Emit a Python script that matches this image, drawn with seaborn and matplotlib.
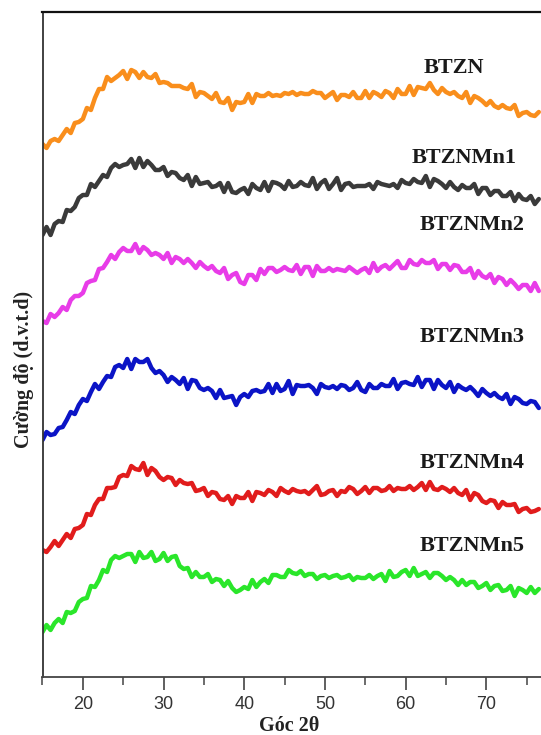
import numpy as np
import pandas as pd
import matplotlib
matplotlib.use("Agg")
import matplotlib.pyplot as plt
import seaborn as sns
from matplotlib.ticker import MultipleLocator, FixedLocator

# ---------------- data ----------------
two_theta_start = 15.0
two_theta_step = 0.5

samples = ["BTZN", "BTZNMn1", "BTZNMn2", "BTZNMn3", "BTZNMn4", "BTZNMn5"]

btzn = [4, 0, 7, 9, 7, 13, 19, 15, 25, 26,
        29, 40, 38, 50, 59, 59, 71, 67, 70, 73,
        77, 69, 78, 76, 70, 76, 71, 70, 74, 65,
        66, 65, 62, 62, 62, 60, 59, 64, 51, 56,
        55, 52, 49, 55, 46, 45, 50, 38, 46, 45,
        46, 54, 45, 54, 52, 52, 55, 52, 53, 52,
        55, 54, 56, 53, 55, 54, 54, 57, 55, 55,
        50, 53, 56, 48, 53, 53, 51, 56, 50, 50,
        57, 50, 56, 54, 51, 57, 55, 50, 59, 54,
        54, 62, 53, 61, 60, 59, 65, 58, 54, 60,
        56, 54, 56, 52, 50, 56, 45, 52, 50, 47,
        43, 47, 42, 40, 43, 40, 39, 43, 32, 35,
        36, 33, 32, 36]

btznmn1 = [-2, 6, -2, 9, 12, 11, 23, 22, 26, 35,
           38, 38, 49, 46, 52, 58, 56, 65, 69, 66,
           68, 69, 74, 65, 75, 66, 72, 68, 63, 63,
           66, 57, 61, 60, 55, 53, 58, 47, 56, 49,
           50, 51, 46, 47, 50, 41, 50, 41, 40, 43,
           45, 39, 49, 45, 43, 51, 42, 51, 50, 48,
           44, 52, 46, 47, 51, 48, 47, 55, 44, 50,
           53, 44, 49, 55, 43, 49, 50, 46, 47, 47,
           47, 49, 44, 51, 49, 48, 47, 49, 45, 53,
           50, 49, 54, 51, 50, 57, 46, 54, 52, 49,
           45, 51, 46, 43, 48, 45, 45, 49, 39, 45,
           45, 38, 42, 42, 37, 37, 41, 32, 39, 34,
           33, 37, 29, 34]

btznmn2 = [2, 0, 9, 6, 10, 16, 13, 23, 27, 27,
           30, 40, 42, 43, 54, 55, 61, 68, 64, 71,
           75, 72, 72, 79, 70, 76, 73, 68, 70, 68,
           64, 70, 60, 66, 64, 60, 64, 60, 55, 61,
           57, 54, 57, 52, 50, 55, 44, 48, 50, 41,
           39, 48, 48, 43, 54, 49, 55, 55, 51, 53,
           56, 53, 52, 58, 49, 56, 56, 47, 57, 52,
           52, 55, 52, 54, 53, 52, 56, 53, 50, 53,
           55, 50, 60, 52, 56, 58, 54, 58, 62, 55,
           55, 63, 59, 58, 63, 60, 60, 63, 54, 59,
           59, 53, 58, 57, 51, 51, 55, 45, 52, 47,
           45, 49, 40, 46, 44, 38, 43, 39, 34, 38,
           38, 32, 40, 32]

btznmn3 = [-3, 5, 2, 3, 9, 10, 17, 25, 23, 32,
           38, 36, 45, 53, 48, 55, 61, 60, 70, 72,
           69, 78, 68, 78, 75, 75, 78, 69, 64, 66,
           62, 55, 60, 57, 53, 59, 48, 57, 56, 49,
           47, 49, 46, 39, 47, 39, 40, 41, 32, 40,
           43, 40, 46, 47, 45, 46, 53, 44, 53, 46,
           48, 56, 43, 52, 51, 51, 52, 49, 43, 53,
           50, 49, 51, 48, 52, 51, 47, 49, 55, 47,
           45, 53, 49, 49, 53, 51, 51, 58, 48, 54,
           55, 53, 52, 60, 50, 57, 57, 48, 57, 52,
           49, 55, 45, 52, 49, 47, 50, 46, 41, 48,
           44, 41, 44, 40, 38, 43, 33, 40, 38, 34,
           33, 36, 35, 29]

btznmn4 = [3, 1, 6, 12, 7, 13, 19, 15, 24, 25,
           28, 39, 38, 48, 54, 54, 65, 65, 66, 76,
           78, 77, 87, 84, 83, 90, 78, 85, 82, 76,
           73, 76, 75, 68, 73, 70, 69, 70, 62, 63,
           65, 57, 61, 60, 54, 53, 57, 49, 57, 55,
           55, 61, 52, 61, 60, 58, 63, 61, 57, 65,
           62, 60, 64, 62, 61, 62, 59, 63, 67, 58,
           59, 62, 63, 57, 62, 61, 66, 64, 59, 62,
           66, 60, 65, 65, 62, 63, 67, 62, 65, 64,
           64, 67, 63, 66, 70, 63, 71, 64, 63, 66,
           64, 61, 65, 60, 58, 63, 53, 60, 58, 52,
           50, 53, 52, 45, 51, 48, 48, 49, 41, 44,
           45, 41, 42, 44]

btznmn5 = [-2, 5, 0, 7, 11, 7, 18, 17, 19, 28,
           31, 32, 44, 43, 50, 60, 58, 70, 74, 72,
           74, 76, 76, 68, 78, 72, 73, 78, 69, 71,
           77, 69, 73, 74, 64, 61, 62, 53, 58, 53,
           53, 56, 48, 51, 50, 44, 49, 42, 38, 40,
           43, 41, 50, 43, 48, 51, 47, 55, 55, 53,
           53, 60, 57, 56, 59, 54, 56, 56, 51, 54,
           55, 52, 54, 55, 52, 53, 55, 50, 53, 52,
           52, 55, 51, 54, 56, 49, 59, 53, 54, 58,
           60, 54, 62, 54, 56, 58, 52, 57, 57, 54,
           50, 53, 50, 45, 50, 45, 48, 48, 42, 44,
           47, 40, 44, 45, 39, 40, 44, 34, 42, 40,
           37, 43, 37, 41]

stack_offsets = [529, 444, 354, 240, 124, 47]
x_ticks = [20, 30, 40, 50, 60, 70]
x_tick_labels = ["20", "30", "40", "50", "60", "70"]

series = [btzn, btznmn1, btznmn2, btznmn3, btznmn4, btznmn5]
colors = ["#F98E1C", "#3A3A3A", "#E83CE8", "#0B14C6", "#E11C1C", "#2AE62A"]

# ---------------- table ----------------
rows = []
for name, vals, off in zip(samples, series, stack_offsets):
    for i, v in enumerate(vals):
        rows.append((name, two_theta_start + i * two_theta_step, v + off))
df = pd.DataFrame(rows, columns=["sample", "two_theta", "intensity"])

# ---------------- style ----------------
sns.set_style("white")
plt.rcParams["font.family"] = ["Liberation Serif", "DejaVu Serif"]

W, H = 541, 735
fig = plt.figure(figsize=(W / 100, H / 100), dpi=100)
ax_left, ax_bottom, ax_top = 42.5, 58.0, 12.0
ax = fig.add_axes([ax_left / W, ax_bottom / H, (W - ax_left) / W, (H - ax_bottom - ax_top) / H])

sns.lineplot(data=df, x="two_theta", y="intensity", hue="sample",
             hue_order=samples, palette=colors, estimator=None, sort=False,
             linewidth=3.2, legend=False, ax=ax)

px_per_deg = 8.07
ax.set_xlim(15, 15 + (W - ax_left) / px_per_deg)
ax.set_ylim(0, 665)

# spines
ax.spines["right"].set_visible(False)
ax.spines["top"].set_color("#111111")
ax.spines["top"].set_linewidth(1.6)
ax.spines["left"].set_color("#333333")
ax.spines["left"].set_linewidth(1.3)
ax.spines["bottom"].set_color("#444444")
ax.spines["bottom"].set_linewidth(1.3)

# ticks
ax.set_yticks([])
ax.xaxis.set_major_locator(FixedLocator(x_ticks))
ax.set_xticklabels(x_tick_labels, fontfamily=["Liberation Sans", "DejaVu Sans"], fontsize=13, color="#333333")
ax.xaxis.set_minor_locator(MultipleLocator(5))
ax.tick_params(axis="x", which="major", direction="out", length=9, width=1.2,
               color="#444444", pad=5, bottom=True)
ax.tick_params(axis="x", which="minor", direction="out", length=5.5, width=1.1,
               color="#444444", bottom=True)

# axis labels
ax.set_xlabel("Góc 2θ", fontsize=14.5, fontweight="bold", color="#222222")
ax.xaxis.set_label_coords(0.494, -0.058)
ax.set_ylabel("Cường độ (d.v.t.d)", fontsize=14.5, fontweight="bold", color="#222222")
ax.yaxis.set_label_coords(-0.017, 0.462)

# series labels
label_pos = {"BTZN": (66.0, 609), "BTZNMn1": (67.2, 519), "BTZNMn2": (68.2, 452),
             "BTZNMn3": (68.2, 340), "BTZNMn4": (68.2, 214), "BTZNMn5": (68.2, 131)}
for name in samples:
    lx, ly = label_pos[name]
    ax.text(lx, ly, name, ha="center", va="center", fontsize=16,
            fontweight="bold", color="#1a1a1a")

fig.savefig("out.png", dpi=100)
